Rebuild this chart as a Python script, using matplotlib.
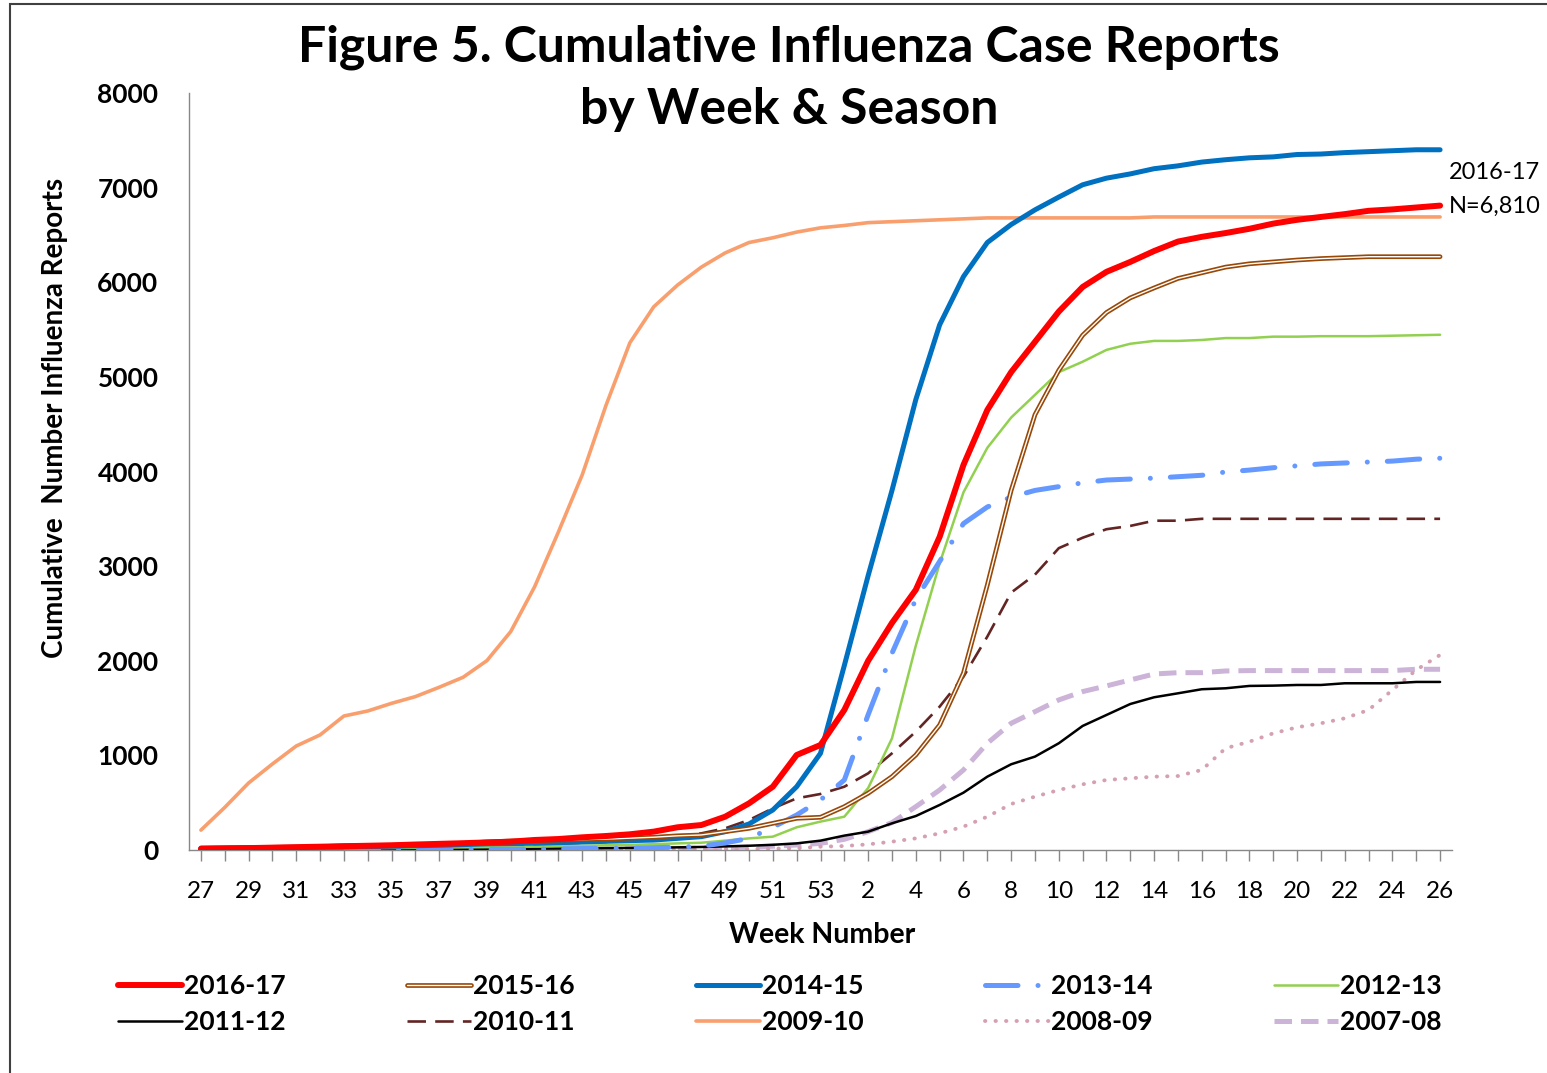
import numpy as np
import matplotlib
matplotlib.use('Agg')
import matplotlib.pyplot as plt
from matplotlib.patches import Rectangle

plt.rcParams['font.family'] = ['Lato', 'DejaVu Sans']

# week numbers of the flu season (week 27 -> week 26 of next year)
weeks = list(range(27, 54)) + list(range(1, 27))
x = np.arange(len(weeks))

s2016_17 = [10, 15, 20, 25, 30, 35, 40, 45, 50, 58, 65, 72,
            80, 88, 106, 116, 134, 148, 166, 194, 240, 264, 352, 493, 669, 1004, 1110,
            1480, 2000, 2400, 2750, 3310, 4070, 4650, 5050, 5370, 5690, 5950, 6110, 6215,
            6330, 6430, 6480, 6520, 6565, 6620, 6660, 6690, 6720, 6755, 6770, 6790, 6810]
s2015_16 = [20, 22, 25, 28, 30, 35, 45, 48, 50, 55, 60, 70,
            85, 95, 100, 105, 110, 115, 125, 135, 150, 159, 194, 229, 282, 335, 346,
            458, 600, 775, 1004, 1321, 1870, 2800, 3800, 4600, 5070, 5440, 5680, 5835,
            5940, 6040, 6100, 6160, 6195, 6215, 6235, 6250, 6260, 6270, 6270, 6270, 6270]
s2014_15 = [20, 22, 24, 26, 28, 30, 33, 36, 40, 45, 50, 57,
            65, 68, 72, 78, 85, 92, 99, 105, 123, 141, 194, 275, 423, 669, 1022,
            1950, 2900, 3800, 4760, 5550, 6060, 6420, 6610, 6765, 6900, 7030, 7100, 7145,
            7200, 7230, 7270, 7295, 7315, 7325, 7350, 7355, 7370, 7380, 7390, 7400, 7400]
s2013_14 = [0, 0, 0, 0, 0, 0, 0, 0, 2, 3, 4, 5, 6, 8, 10, 12, 15, 18, 20, 25, 30,
            40, 75, 123, 240, 370, 529, 740, 1430,
            2080, 2650, 3050, 3450, 3625, 3730, 3800, 3840, 3880, 3910, 3920, 3930,
            3945, 3960, 3995, 4015, 4040, 4060, 4080, 4090, 4100, 4110, 4130, 4140]
s2012_13 = [5, 6, 8, 10, 12, 14, 16, 18, 20, 22, 25, 28, 30, 33, 36, 40, 45, 50, 55, 62,
            70, 77, 99, 123, 141, 240, 300, 352, 655,
            1180, 2160, 3030, 3780, 4250, 4570, 4810, 5050, 5160, 5285, 5350, 5380,
            5380, 5390, 5410, 5410, 5425, 5425, 5430, 5430, 5430, 5435, 5440, 5445]
s2011_12 = [0, 0, 0, 1, 2, 3, 4, 5, 6, 7, 8, 9, 10, 12, 14, 16, 18, 20, 22, 25,
            28, 32, 38, 45, 55, 70,
            99, 152, 194, 282, 359, 476, 606, 775, 906, 987, 1128, 1311, 1427, 1543,
            1614, 1656, 1699, 1709, 1734, 1737, 1744, 1744, 1762, 1762, 1762, 1776, 1776]
s2010_11 = [10, 12, 14, 16, 18, 20, 22, 25, 28, 32, 36, 40, 45, 50, 58, 65, 75, 85,
            99, 112, 141, 176, 229, 317, 440, 546, 592, 669,
            810, 1022, 1251, 1515, 1832, 2255, 2720, 2910, 3190, 3300, 3390, 3425, 3480,
            3480, 3500, 3500, 3500, 3500, 3500, 3500, 3500, 3500, 3500, 3500, 3500]
s2009_10 = [210, 450, 708, 909, 1099, 1216, 1416, 1469, 1550, 1621, 1720, 1825, 2001, 2308,
            2780, 3360, 3964, 4700, 5360, 5740, 5970, 6160, 6310, 6420, 6470, 6530, 6575,
            6600, 6630, 6640, 6650, 6660, 6670, 6680, 6680, 6680, 6680, 6680, 6680, 6680,
            6690, 6690, 6690, 6690, 6690, 6690, 6690, 6690, 6690, 6690, 6690, 6690, 6690]
s2008_09 = [0, 0, 0, 0, 0, 0, 0, 0, 0, 0, 0, 0, 0, 0, 2, 3, 4, 5, 6, 7, 8, 9, 10, 12, 14, 18,
            35, 42, 60, 88, 123, 176, 247, 352, 486, 564, 634, 694, 740, 758, 775,
            782, 846, 1075, 1145, 1233, 1297, 1339, 1392, 1480, 1691, 1903, 2061]
s2007_08 = [0, 0, 0, 0, 0, 0, 0, 0, 0, 0, 1, 2, 3, 4, 5, 6, 8, 10, 12, 14, 16, 20, 25, 30, 40, 53,
            70, 113, 194, 289, 458, 634, 846, 1128, 1339, 1462, 1586, 1674, 1734, 1797, 1860,
            1874, 1874, 1892, 1896, 1896, 1896, 1896, 1896, 1896, 1896, 1910, 1910]

fig = plt.figure(figsize=(15.47, 10.73), dpi=100)
ax = fig.add_axes([189 / 1547, 1 - 850 / 1073, (1452 - 189) / 1547, (850 - 93) / 1073])

rnd = dict(solid_capstyle='round', solid_joinstyle='round')

h0708, = ax.plot(x, s2007_08, color='#CCB3D8', lw=3.6, ls=(0, (3.5, 1.8)), zorder=2)
h0809, = ax.plot(x, s2008_09, color='#D5A0B4', lw=2.8, ls=(0, (0.1, 2.6)),
                 dash_capstyle='round', zorder=2)
h0910, = ax.plot(x, s2009_10, color='#F99F6E', lw=2.6, zorder=3, **rnd)
h1011, = ax.plot(x, s2010_11, color='#632523', lw=1.9, ls=(0, (7, 3.5)), zorder=3)
h1112, = ax.plot(x, s2011_12, color='black', lw=1.8, zorder=3, **rnd)
h1213, = ax.plot(x, s2012_13, color='#92D050', lw=1.8, zorder=4, **rnd)
h1314, = ax.plot(x, s2013_14, color='#6699FF', lw=3.6, ls=(0, (6.5, 4, 0.01, 4)),
                 dash_capstyle='round', zorder=4)
h1415, = ax.plot(x, s2014_15, color='#0070C0', lw=3.6, zorder=5, **rnd)
# double line for 2015-16: brown outer, white core
h1516a, = ax.plot(x, s2015_16, color='#984807', lw=3.4, zorder=5, **rnd)
h1516b, = ax.plot(x, s2015_16, color='white', lw=1.0, zorder=5, **rnd)
h1617, = ax.plot(x, s2016_17, color='#FF0000', lw=4.3, zorder=6, **rnd)

ax.set_xlim(-0.5, 52.5)
ax.set_ylim(0, 8000)
ax.set_xticks(x)
ax.set_xticklabels([str(w) if i % 2 == 0 else '' for i, w in enumerate(weeks)], fontsize=17.5)
ax.set_yticks(np.arange(0, 8001, 1000))
ax.set_yticklabels([str(v) for v in range(0, 8001, 1000)], fontsize=19, fontweight='bold')
ax.tick_params(axis='x', length=8, width=1, color='#888888', pad=14)
ax.tick_params(axis='y', length=0, pad=22)
for s in ['top', 'right']:
    ax.spines[s].set_visible(False)
for s in ['left', 'bottom']:
    ax.spines[s].set_color('#888888')
    ax.spines[s].set_linewidth(1)

fig.text(822 / 1547, 1 - 935 / 1073, 'Week Number', ha='center', va='center',
         fontsize=20.5, fontweight='bold')
fig.text(55 / 1547, 1 - 418 / 1073, 'Cumulative  Number Influenza Reports', rotation=90,
         ha='center', va='center', fontsize=20, fontweight='bold')

fig.text(789 / 1547, 1 - 47 / 1073, 'Figure 5. Cumulative Influenza Case Reports',
         ha='center', va='center', fontsize=36, fontweight='bold')
fig.text(789 / 1547, 1 - 109 / 1073, 'by Week & Season',
         ha='center', va='center', fontsize=36, fontweight='bold')

fig.text(1449 / 1547, 1 - 173 / 1073, '2016-17', ha='left', va='center', fontsize=17)
fig.text(1449 / 1547, 1 - 206 / 1073, 'N=6,810', ha='left', va='center', fontsize=17)

# legend: row-wise order in picture, matplotlib fills column-wise
handles = [h1617, h1112, (h1516a, h1516b), h1011, h1415, h0910, h1314, h0809, h1213, h0708]
labels = ['2016-17', '2011-12', '2015-16', '2010-11', '2014-15', '2009-10',
          '2013-14', '2008-09', '2012-13', '2007-08']
fig.legend(handles, labels, ncol=5, loc='center', bbox_to_anchor=(780 / 1547, 1 - 1004 / 1073),
           frameon=False, handlelength=2.4, handletextpad=0.1, columnspacing=4.6,
           labelspacing=0.45, prop={'size': 19, 'weight': 'bold'})

fig.patches.append(Rectangle((10 / 1547, -0.1), 2, 1 - 4 / 1073 + 0.1, transform=fig.transFigure,
                             fill=False, edgecolor='#404040', lw=1.5))

fig.savefig('out.png', dpi=100)
